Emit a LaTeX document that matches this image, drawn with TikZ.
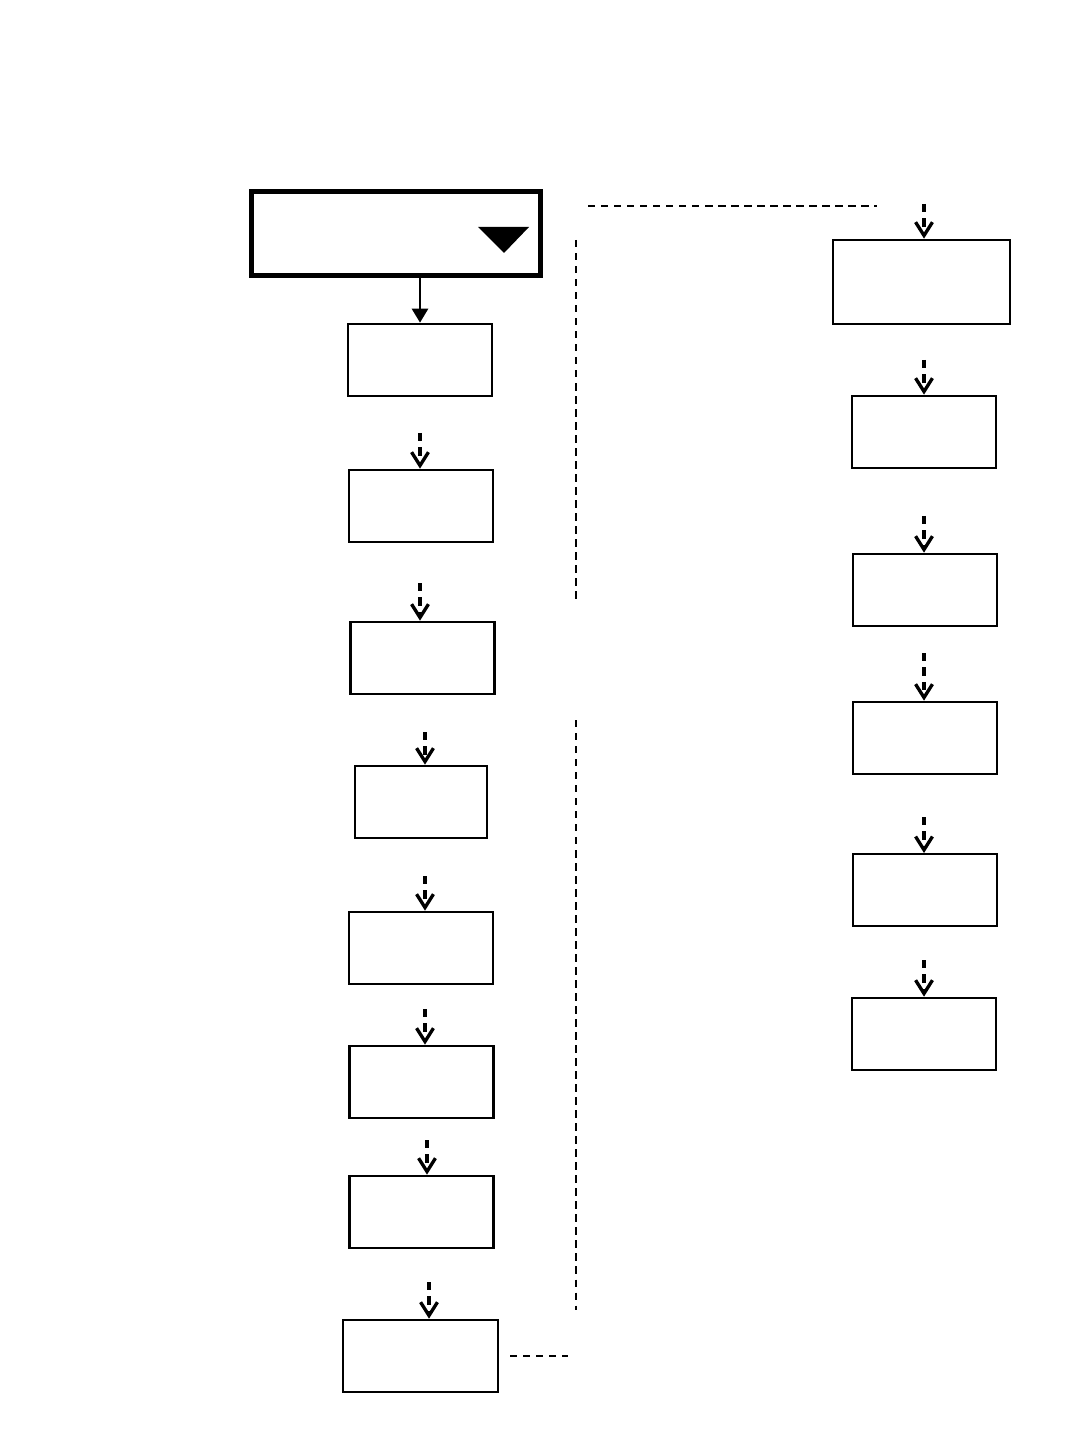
\documentclass[tikz,border=0pt]{standalone}
\usetikzlibrary{arrows.meta}

\begin{document}
\begin{tikzpicture}[
    x=0.01cm, y=-0.01cm,
    box/.style={draw, line width=0.75pt, inner sep=0pt, minimum width=1.44cm, minimum height=0.72cm},
    menubox/.style={draw, line width=1.45pt, inner sep=0pt, minimum width=2.89cm, minimum height=0.84cm},
    flowarrow/.style={-{Triangle[length=4pt, width=4.6pt]}, line width=0.7pt},
    stepflow/.style={-{Straight Barb[length=3.8pt, width=4.8pt]}, line width=0.95pt, dash pattern=on 2.3pt off 1.8pt},
    divider/.style={line width=0.65pt, dash pattern=on 2.1pt off 1.6pt},
]
\useasboundingbox (0,0) rectangle (1080,1440);

% ---- Top: menu box ----
\node[menubox] (menu) at (396,233.5) {};
\fill (478,227) -- (529,227) -- (504,253) -- cycle;

% ---- Left column ----
\node[box] (l1) at (420,360) {};
\node[box] (l2) at (421,506) {};
\node[box] (l3) at (422.5,658) {};
\node[box, minimum width=1.32cm] (l4) at (421,802) {};
\node[box] (l5) at (421,948) {};
\node[box] (l6) at (421.5,1082) {};
\node[box] (l7) at (421.5,1212) {};
\node[box, minimum width=1.55cm] (l8) at (420.5,1356) {};

\coordinate (l2in) at (420,433);
\coordinate (l3in) at (420,583);
\coordinate (l4in) at (425,732);
\coordinate (l5in) at (425,876);
\coordinate (l6in) at (425,1009);
\coordinate (l7in) at (427,1140);
\coordinate (l8in) at (429,1282);

\draw[flowarrow] (menu.south -| l1.north) -- (l1.north);
\draw[stepflow] (l2in) -- (l2in |- l2.north);
\draw[stepflow] (l3in) -- (l3in |- l3.north);
\draw[stepflow] (l4in) -- (l4in |- l4.north);
\draw[stepflow] (l5in) -- (l5in |- l5.north);
\draw[stepflow] (l6in) -- (l6in |- l6.north);
\draw[stepflow] (l7in) -- (l7in |- l7.north);
\draw[stepflow] (l8in) -- (l8in |- l8.north);

% ---- Right column ----
\node[box, minimum width=1.77cm, minimum height=0.84cm] (r1) at (921.5,282) {};
\node[box] (r2) at (924,432) {};
\node[box] (r3) at (925,590) {};
\node[box] (r4) at (925,738) {};
\node[box, line width=0.55pt] (r5) at (925,890) {};
\node[box] (r6) at (924,1034) {};

\coordinate (r1in) at (924,204);
\coordinate (r2in) at (924,360);
\coordinate (r3in) at (924,516);
\coordinate (r4in) at (924,653);
\coordinate (r5in) at (924,817);
\coordinate (r6in) at (924,960);

\draw[stepflow] (r1in) -- (r1in |- r1.north);
\draw[stepflow] (r2in) -- (r2in |- r2.north);
\draw[stepflow] (r3in) -- (r3in |- r3.north);
\draw[stepflow] (r4in) -- (r4in |- r4.north);
\draw[stepflow] (r5in) -- (r5in |- r5.north);
\draw[stepflow] (r6in) -- (r6in |- r6.north);

% ---- Dividers ----
\draw[divider] (588,206) -- (877,206);
\draw[divider] (576,240) -- (576,600);
\draw[divider] (576,720) -- (576,1310);
\draw[divider] (510,1356) -- (568,1356);

\end{tikzpicture}
\end{document}
